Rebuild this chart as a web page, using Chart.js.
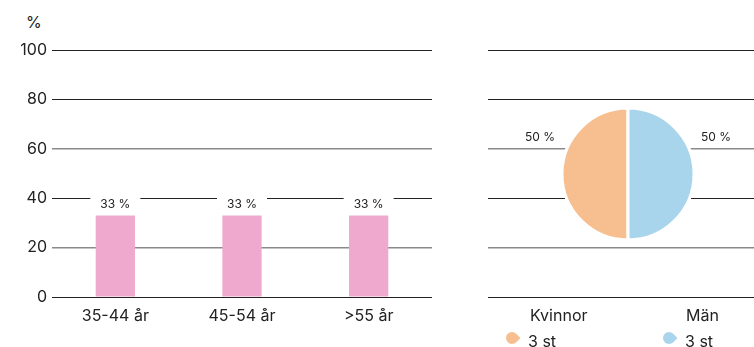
<!DOCTYPE html>
<html>
<head>
<meta charset="utf-8">
<script src="https://cdn.jsdelivr.net/npm/chart.js@4/dist/chart.umd.min.js"></script>
<style>
  body { margin: 0; background: #fff; font-family: Inter, sans-serif; color: #222; }
  #wrap { position: relative; width: 754px; height: 347px; overflow: hidden; }
  #wrap canvas { position: absolute; }
  .txt { position: absolute; font-size: 16px; line-height: 18px; white-space: nowrap; }
  .icon { position: absolute; width: 12px; height: 12px; border-radius: 50% 0 50% 50%; transform: rotate(45deg); }
</style>
</head>
<body>
<div id="wrap">
  <div class="txt" style="left:26px;top:13px;">%</div>
  <canvas id="barChart" width="440" height="347" style="left:0;top:0;"></canvas>
  <canvas id="gridChart" width="266" height="347" style="left:488px;top:0;"></canvas>
  <canvas id="pieChart" width="240" height="160" style="left:508px;top:94px;"></canvas>
  <div id="legend"></div>
</div>
<script>
// data
const ageLabels = ['35-44 år', '45-54 år', '>55 år'];
const agePct = [33, 33, 33];
const genderLabels = ['Kvinnor', 'Män'];
const genderCount = [3, 3];
const genderPct = [50, 50];
const yMax = 100;
const yStep = 20;

const pink = '#EFA9CE';
const genderColors = ['#F7BF8F', '#A9D5EC'];
const fontFamily = 'Inter, sans-serif';

// grid lines: 60 and 20 come out softer in the original
function gridColor(c) {
  const v = c.tick && c.tick.value;
  return (v === 60 || v === 20) ? '#8a8a8a' : '#222';
}
function gridWidth(c) {
  const v = c.tick && c.tick.value;
  return (v === 60 || v === 20) ? 1.6 : 1;
}

// labels "33 %" above bars, white box cuts the grid line
const barLabels = {
  id: 'barLabels',
  afterDatasetsDraw(chart) {
    const ctx = chart.ctx;
    chart.getDatasetMeta(0).data.forEach((bar, i) => {
      const txt = agePct[i] + ' %';
      ctx.save();
      ctx.font = '12px ' + fontFamily;
      const w = ctx.measureText(txt).width + 20;
      ctx.fillStyle = '#fff';
      ctx.fillRect(bar.x - w / 2, bar.y - 20, w, 15);
      ctx.fillStyle = '#222';
      ctx.textAlign = 'center';
      ctx.textBaseline = 'middle';
      ctx.fillText(txt, bar.x, bar.y - 11);
      ctx.restore();
    });
  }
};

new Chart(document.getElementById('barChart'), {
  type: 'bar',
  data: {
    labels: ageLabels,
    datasets: [{ data: agePct, backgroundColor: pink, borderWidth: 0, categoryPercentage: 1, barPercentage: 0.31 }]
  },
  options: {
    responsive: false,
    animation: false,
    layout: { padding: { top: 50, right: 8, bottom: 0, left: 0 } },
    plugins: { legend: { display: false }, tooltip: { enabled: false } },
    scales: {
      x: {
        grid: { display: false },
        border: { display: false },
        ticks: { color: '#222', font: { family: fontFamily, size: 16 }, padding: 2 },
        afterFit: s => { s.height = 50; }
      },
      y: {
        min: 0, max: yMax,
        ticks: { stepSize: yStep, color: '#222', font: { family: fontFamily, size: 16 }, padding: 5 },
        grid: { drawTicks: false, color: gridColor, lineWidth: gridWidth },
        border: { display: false },
        afterFit: s => { s.width = 52; }
      }
    }
  },
  plugins: [barLabels]
});

// empty grid behind the pie
new Chart(document.getElementById('gridChart'), {
  type: 'bar',
  data: { labels: [''], datasets: [{ data: [] }] },
  options: {
    responsive: false,
    animation: false,
    layout: { padding: { top: 50, right: 0, bottom: 50, left: 0 } },
    plugins: { legend: { display: false }, tooltip: { enabled: false } },
    scales: {
      x: { display: false },
      y: {
        min: 0, max: yMax,
        ticks: { stepSize: yStep, display: false },
        grid: { drawTicks: false, color: gridColor, lineWidth: gridWidth },
        border: { display: false }
      }
    }
  }
});

// "50 %" labels beside the pie
const pieLabels = {
  id: 'pieLabels',
  afterDatasetsDraw(chart) {
    const ctx = chart.ctx;
    chart.getDatasetMeta(0).data.forEach((arc, i) => {
      const side = i === 0 ? -1 : 1;
      ctx.save();
      ctx.font = '12px ' + fontFamily;
      ctx.fillStyle = '#222';
      ctx.textAlign = 'center';
      ctx.textBaseline = 'middle';
      ctx.fillText(genderPct[i] + ' %', arc.x + side * (arc.outerRadius + 22), arc.y - arc.outerRadius * 0.56);
      ctx.restore();
    });
  }
};

new Chart(document.getElementById('pieChart'), {
  type: 'pie',
  data: {
    labels: genderLabels,
    datasets: [{ data: genderCount, backgroundColor: genderColors, borderColor: '#fff', borderWidth: 3, radius: 66 }]
  },
  options: {
    responsive: false,
    animation: false,
    rotation: 180,
    plugins: { legend: { display: false }, tooltip: { enabled: false } }
  },
  plugins: [pieLabels]
});

// legend under the pie
const legendEl = document.getElementById('legend');
const legendPos = [{ name: 530, icon: 506, count: 528 }, { name: 686, icon: 663, count: 685 }];
genderLabels.forEach((g, i) => {
  const p = legendPos[i];
  legendEl.innerHTML +=
    `<div class="txt" style="left:${p.name}px;top:306px;">${g}</div>` +
    `<div class="icon" style="left:${p.icon}px;top:332px;background:${genderColors[i]};"></div>` +
    `<div class="txt" style="left:${p.count}px;top:332px;">${genderCount[i]} st</div>`;
});
</script>
</body>
</html>
